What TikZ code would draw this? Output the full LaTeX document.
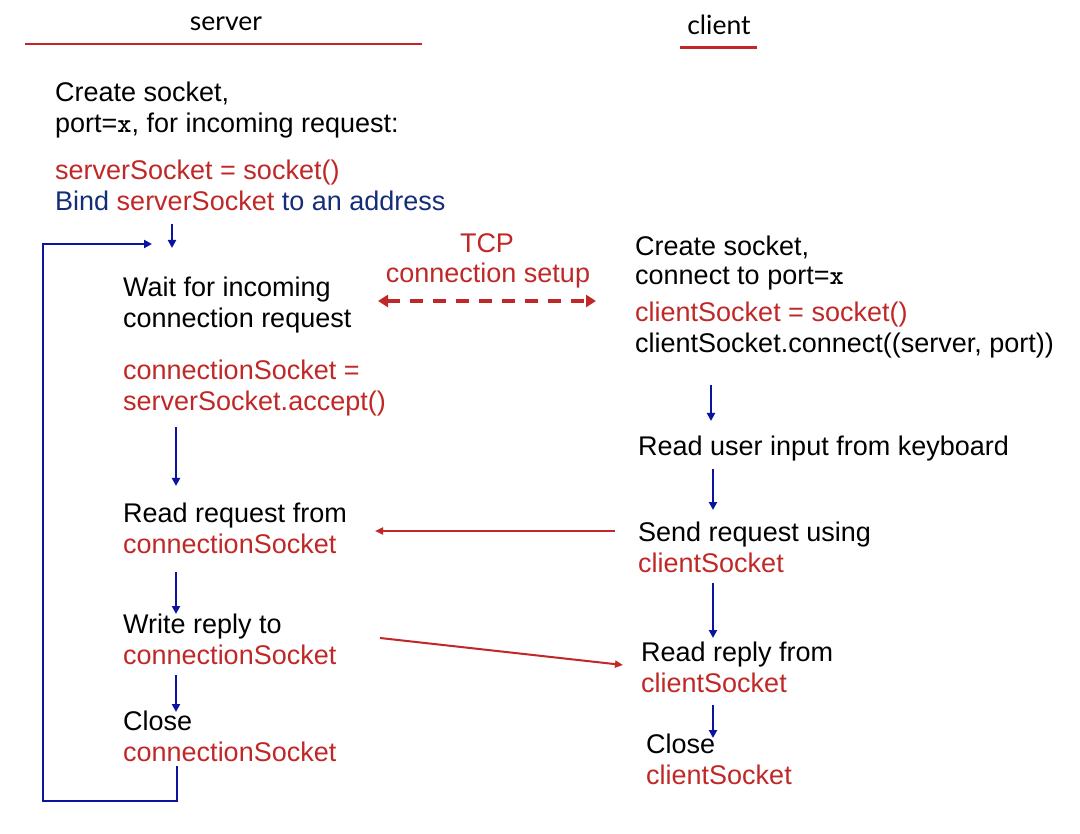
\documentclass[tikz,border=0pt]{standalone}
\usepackage{fontspec}
\setmainfont{Liberation Sans}
\newfontfamily\headfont{Lato}
\usetikzlibrary{arrows.meta}
\definecolor{cred}{RGB}{192,40,40}
\definecolor{cblue}{RGB}{10,20,160}
\definecolor{cnavy}{RGB}{20,45,120}
\newcommand{\portx}{{\ttfamily\bfseries x}}
\tikzset{
  txt/.style={anchor=base west, inner sep=0pt, font=\fontsize{27}{31}\selectfont, text=black},
  rtxt/.style={txt, text=cred},
  ctxt/.style={anchor=base, inner sep=0pt, font=\fontsize{27}{31}\selectfont, text=cred},
  head/.style={anchor=base, inner sep=0pt, font=\headfont\fontsize{26.5}{30}\selectfont},
  flow/.style={draw=cblue, line width=2.4pt, -{Triangle[length=8pt,width=8pt]}},
  msg/.style={draw=cred, line width=2pt, -{Triangle[length=8pt,width=7pt]}},
  setup/.style={draw=cred, line width=4pt, dash pattern=on 13pt off 10pt,
    {Triangle[length=10pt,width=12pt]}-{Triangle[length=10pt,width=12pt]}},
  rule/.style={draw=cred, line width=2.5pt},
}
\begin{document}
\begin{tikzpicture}[x=1pt,y=-1pt]
\useasboundingbox (0,0) rectangle (1080,834);

% headers
\node[head] (srvh) at (226,31) {server};
\coordinate (srvl) at (25,44); \coordinate (srvr) at (422,44);
\draw[rule] (srvl) -- (srvr);
\node[head] (clih) at (719,35) {client};
\coordinate (clil) at (680,48); \coordinate (clir) at (757,48);
\draw[rule, line width=3pt] (clil) -- (clir);

% server
\node[txt] (s1) at (55,102) {Create socket,};
\node[txt] (s2) at (55,133) {port=\portx, for incoming request:};
\node[rtxt] (s3) at (55,180) {serverSocket = socket()};
\node[txt, text=cnavy] (s4) at (55,211) {Bind \textcolor{cred}{serverSocket} to an address};

\node[txt] (w1) at (123,297) {Wait for incoming};
\node[txt] (w2) at (123,328) {connection request};
\node[rtxt] (a1) at (123,380) {connectionSocket =};
\node[rtxt] (a2) at (123,411) {serverSocket.accept()};
\node[txt] (r1) at (123,522) {Read request from};
\node[rtxt] (r2) at (123,553) {connectionSocket};
\node[txt] (wr1) at (123,633) {Write reply to};
\node[rtxt] (wr2) at (123,664) {connectionSocket};
\node[txt] (c1) at (123,730) {Close};
\node[rtxt] (c2) at (123,761) {connectionSocket};

% TCP setup label
\node[ctxt] (tcp1) at (487,253) {TCP};
\node[ctxt] (tcp2) at (488,283) {connection setup};

% client
\node[txt] (k1) at (635,256) {Create socket,};
\node[txt] (k2) at (635,285) {connect to port=\portx};
\node[rtxt] (k3) at (635,322) {clientSocket = socket()};
\node[txt] (k4) at (635,353) {clientSocket.connect((server, port))};
\node[txt] (u1) at (638,456) {Read user input from keyboard};
\node[txt] (q1) at (638,541) {Send request using};
\node[rtxt] (q2) at (638,572) {clientSocket};
\node[txt] (p1) at (641,661) {Read reply from};
\node[rtxt] (p2) at (641,692) {clientSocket};
\node[txt] (e1) at (646,753) {Close};
\node[rtxt] (e2) at (646,784) {clientSocket};

% server flow
\coordinate (f0a) at (172,224); \coordinate (f0b) at (172,248);
\draw[flow] (f0a) -- (f0b);
\coordinate (f1a) at (176,427); \coordinate (f1b) at (176,486);
\draw[flow] (f1a) -- (f1b);
\coordinate (f2a) at (176,572); \coordinate (f2b) at (176,614);
\draw[flow] (f2a) -- (f2b);
\coordinate (f3a) at (176,675); \coordinate (f3b) at (176,712);
\draw[flow] (f3a) -- (f3b);
\coordinate (lp0) at (177,766); \coordinate (lp1) at (177,801);
\coordinate (lp2) at (43,801); \coordinate (lp3) at (43,244);
\coordinate (lp4) at (152,244);
\draw[flow] (lp0) -- (lp1) -- (lp2) -- (lp3) -- (lp4);

% client flow
\coordinate (g1a) at (711,385); \coordinate (g1b) at (711,421);
\draw[flow] (g1a) -- (g1b);
\coordinate (g2a) at (713,469); \coordinate (g2b) at (713,510);
\draw[flow] (g2a) -- (g2b);
\coordinate (g3a) at (713,583); \coordinate (g3b) at (713,638);
\draw[flow] (g3a) -- (g3b);
\coordinate (g4a) at (713,705); \coordinate (g4b) at (713,738);
\draw[flow] (g4a) -- (g4b);

% messages
\coordinate (tl) at (378,301); \coordinate (tr) at (596,301);
\draw[setup] (tl) -- (tr);
\coordinate (m1a) at (615,531); \coordinate (m1b) at (375,531);
\draw[msg] (m1a) -- (m1b);
\coordinate (m2a) at (380,638); \coordinate (m2b) at (623,665);
\draw[msg] (m2a) -- (m2b);
\end{tikzpicture}
\end{document}
